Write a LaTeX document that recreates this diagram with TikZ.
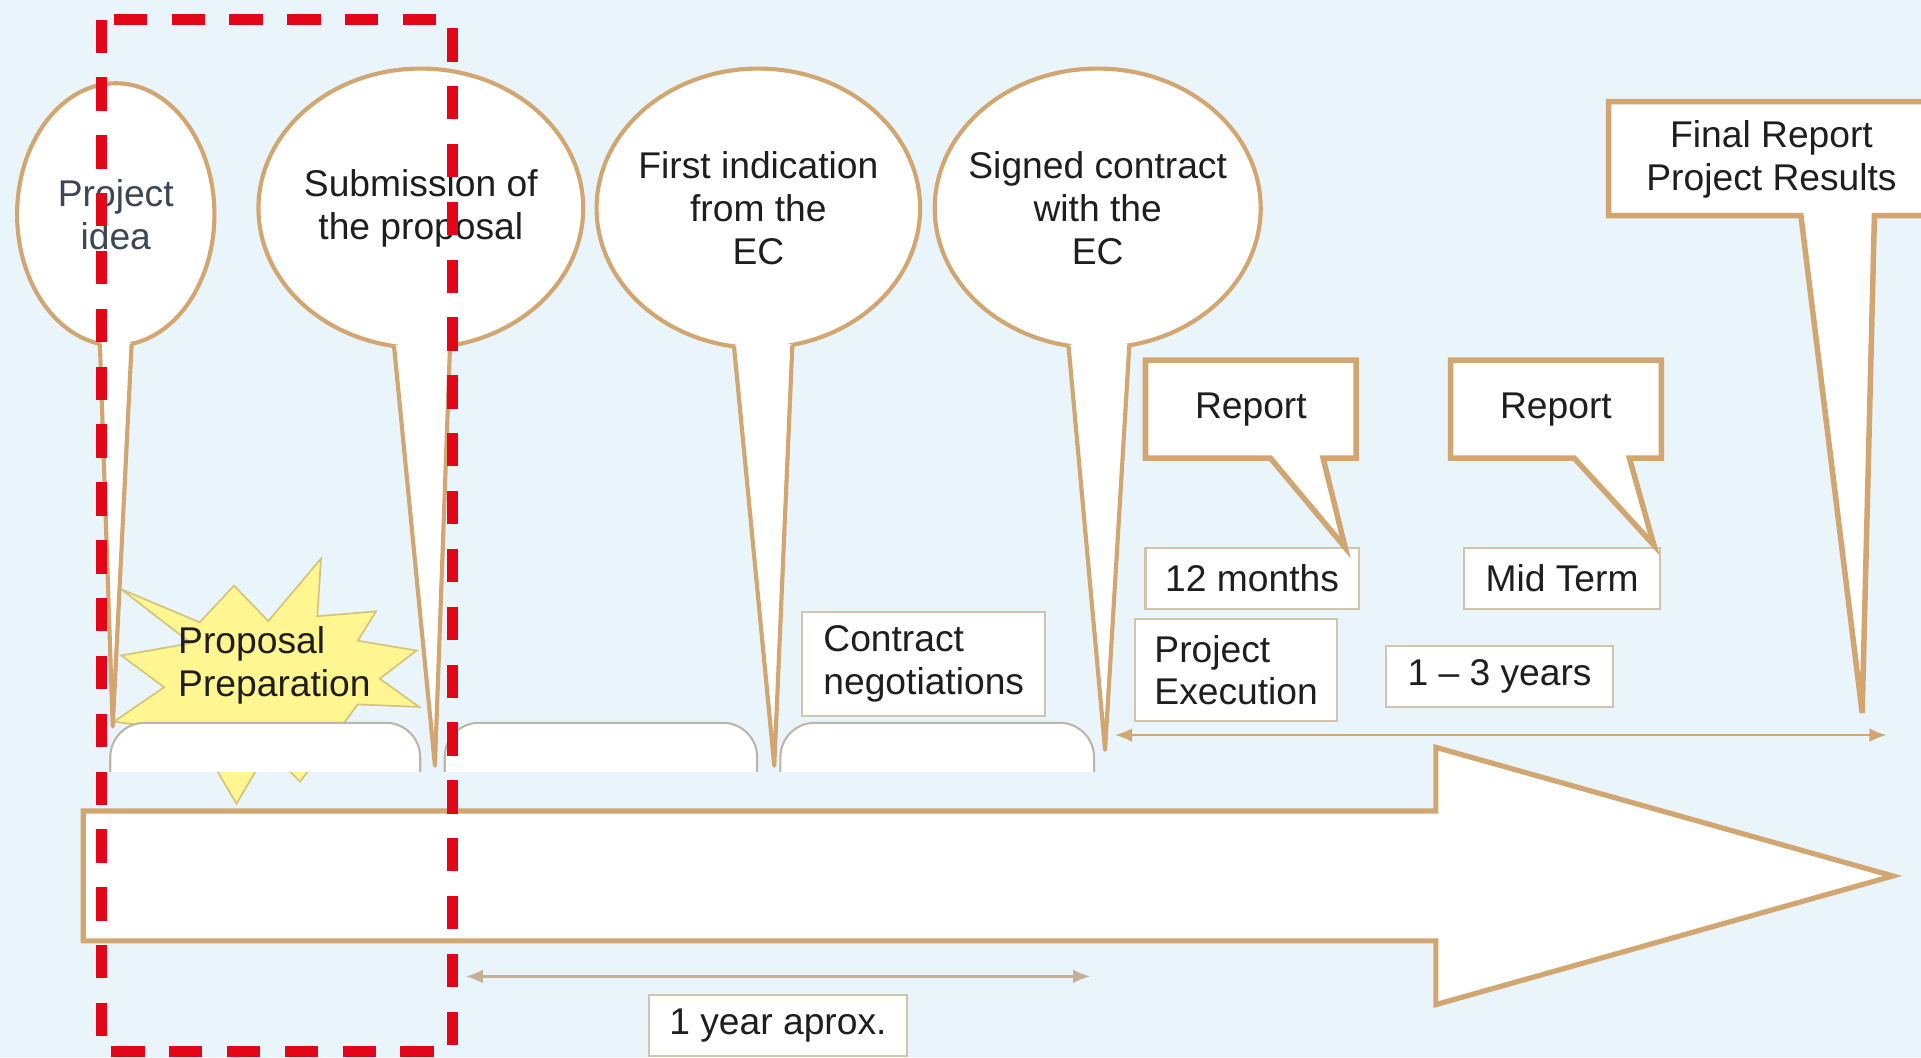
\documentclass[tikz,border=0pt]{standalone}
\usepackage{fontspec}
\setmainfont{Liberation Sans}
\usetikzlibrary{calc, arrows.meta, shapes.geometric}

\definecolor{skyblue}{RGB}{233,244,251}
\definecolor{tanline}{RGB}{210,166,112}
\definecolor{boxline}{RGB}{208,196,172}
\definecolor{bracketline}{RGB}{190,180,168}
\definecolor{staryellow}{RGB}{255,245,145}
\definecolor{starline}{RGB}{214,196,120}
\definecolor{dashred}{RGB}{226,6,24}
\definecolor{textgray}{RGB}{30,30,30}
\definecolor{ideagray}{RGB}{60,70,84}
\definecolor{spangray}{RGB}{196,176,150}

\begin{document}
\begin{tikzpicture} [x=0.0125cm, y=-0.0125cm,
    txt/.style = {font=\fontsize{10.8}{12.4}\selectfont, text=textgray, align=center, inner sep=0pt},
    balloon/.style = {ellipse, draw=tanline, line width=1.2pt, fill=white, inner sep=0pt, outer sep=0pt},
    tail/.style = {draw=tanline, line width=1.2pt, line join=round},
    callout/.style = {draw=tanline, line width=1.6pt, fill=white},
    labelbox/.style = {txt, draw=boxline, line width=0.6pt, fill=white, minimum height=0.625cm},
    span/.style = {draw=tanline, line width=0.8pt, {Latex[length=5pt, width=4pt]}-{Latex[length=5pt, width=4pt]}},
    bracket/.style = {draw=bracketline, fill=white, line width=0.6pt, rounded corners=0.35cm},
    redbox/.style = {draw=dashred, line width=3.2pt, dash pattern=on 0.34cm off 0.25cm}]

    % Hintergrund
    \fill [skyblue] (0, 0) rectangle (1568, 863);
    \useasboundingbox (0, 0) rectangle (1568, 863);

    % Zeitpfeil
    \draw [draw=tanline, line width=1.5pt, fill=white] (68, 662) -- (1172, 662) -- (1172, 610) -- (1545, 715) -- (1172, 820) -- (1172, 768) -- (68, 768) -- cycle;

    % Stern Proposal Preparation
    \draw [draw=starline, fill=staryellow, line width=0.5pt] (262, 456) -- (259, 503) -- (307, 499) -- (292, 523) -- (340, 531) -- (310, 554) -- (342, 577) -- (292, 575) -- (245, 638) -- (219, 612) -- (193, 656) -- (159, 598) -- (93, 589) -- (134, 561) -- (99, 535) -- (156, 525) -- (99, 481) -- (163, 508) -- (191, 478) -- (219, 507) -- cycle;
    \node [txt, align=left] (prep) at (224, 543) {Proposal\\Preparation};

    % Klammern
    \foreach \a/\b in {90/343, 363/618, 637/893}
        \filldraw [bracket] (\a, 630) -- (\a, 590) -- (\b, 590) -- (\b, 630);

    % Beschriftungen
    \node [labelbox, minimum width=2.475cm, minimum height=1.0625cm, align=left] (negot) at (754, 542) {Contract\\negotiations};
    \node [labelbox, minimum width=2.0625cm, minimum height=1.0375cm, align=left] (exec) at (1009, 547) {Project\\Execution};
    \node [labelbox, minimum width=2.175cm] (months) at (1022, 472) {12 months};
    \node [labelbox, minimum width=2.0cm] (midterm) at (1275, 472) {Mid Term};
    \node [labelbox, minimum width=2.3125cm] (years) at (1224, 552) {1 – 3 years};
    \node [labelbox, minimum width=2.625cm] (aprox) at (635, 837) {1 year aprox.};

    % Zeitspannen
    \coordinate (execstart) at (910, 600);
    \coordinate (execend) at (1540, 600);
    \draw [span] (execstart) -- (execend);
    \coordinate (yearstart) at (380, 797);
    \coordinate (yearend) at (890, 797);
    \draw [span, draw=spangray] (yearstart) -- (yearend);

    % Project idea
    \node [balloon, minimum width=2.0125cm, minimum height=2.675cm] (idea) at (94.5, 175) {};
    \coordinate (ideatip) at (92, 593);
    \fill [white] (idea.263) -- (ideatip) -- (idea.277) -- ($(idea.south)!0.1!(idea.center)$) -- cycle;
    \draw [tail] (idea.263) -- (ideatip) -- (idea.277);
    \node [txt, text=ideagray] (ideatext) at (idea) {Project\\idea};

    % Submission
    \node [balloon, minimum width=3.3125cm, minimum height=2.85cm] (submit) at (343.5, 170) {};
    \coordinate (submittip) at (355, 625);
    \fill [white] (submit.259) -- (submittip) -- (submit.282) -- ($(submit.south)!0.1!(submit.center)$) -- cycle;
    \draw [tail] (submit.259) -- (submittip) -- (submit.282);
    \node [txt] (submittext) at (submit) {Submission of\\the proposal};

    % First indication
    \node [balloon, minimum width=3.3cm, minimum height=2.85cm] (first) at (619, 170) {};
    \coordinate (firsttip) at (632, 625);
    \fill [white] (first.260) -- (firsttip) -- (first.284.5) -- ($(first.south)!0.1!(first.center)$) -- cycle;
    \draw [tail] (first.260) -- (firsttip) -- (first.284.5);
    \node [txt] (firsttext) at (first) {First indication\\from the\\EC};

    % Signed contract
    \node [balloon, minimum width=3.325cm, minimum height=2.85cm] (signed) at (896, 170) {};
    \coordinate (signedtip) at (902, 612);
    \fill [white] (signed.258) -- (signedtip) -- (signed.283) -- ($(signed.south)!0.1!(signed.center)$) -- cycle;
    \draw [tail] (signed.258) -- (signedtip) -- (signed.283);
    \node [txt] (signedtext) at (signed) {Signed contract\\with the\\EC};

    % Reports
    \draw [callout] (935, 294) -- (1107, 294) -- (1107, 374) -- (1080, 374) -- (1098, 447) -- (1037, 374) -- (935, 374) -- cycle;
    \node [txt] (report1) at (1021, 334) {Report};
    \draw [callout] (1184, 294) -- (1356, 294) -- (1356, 374) -- (1330, 374) -- (1350, 445) -- (1285, 374) -- (1184, 374) -- cycle;
    \node [txt] (report2) at (1270, 334) {Report};
    \draw [callout] (1313, 83) -- (1590, 83) -- (1590, 176) -- (1530, 176) -- (1520, 582) -- (1470, 176) -- (1313, 176) -- cycle;
    \node [txt] (final) at (1446, 130) {Final Report\\Project Results};

    % Rahmen Antragsphase
    \draw [redbox] (83, 16) rectangle (369, 858);
\end{tikzpicture}
\end{document}
